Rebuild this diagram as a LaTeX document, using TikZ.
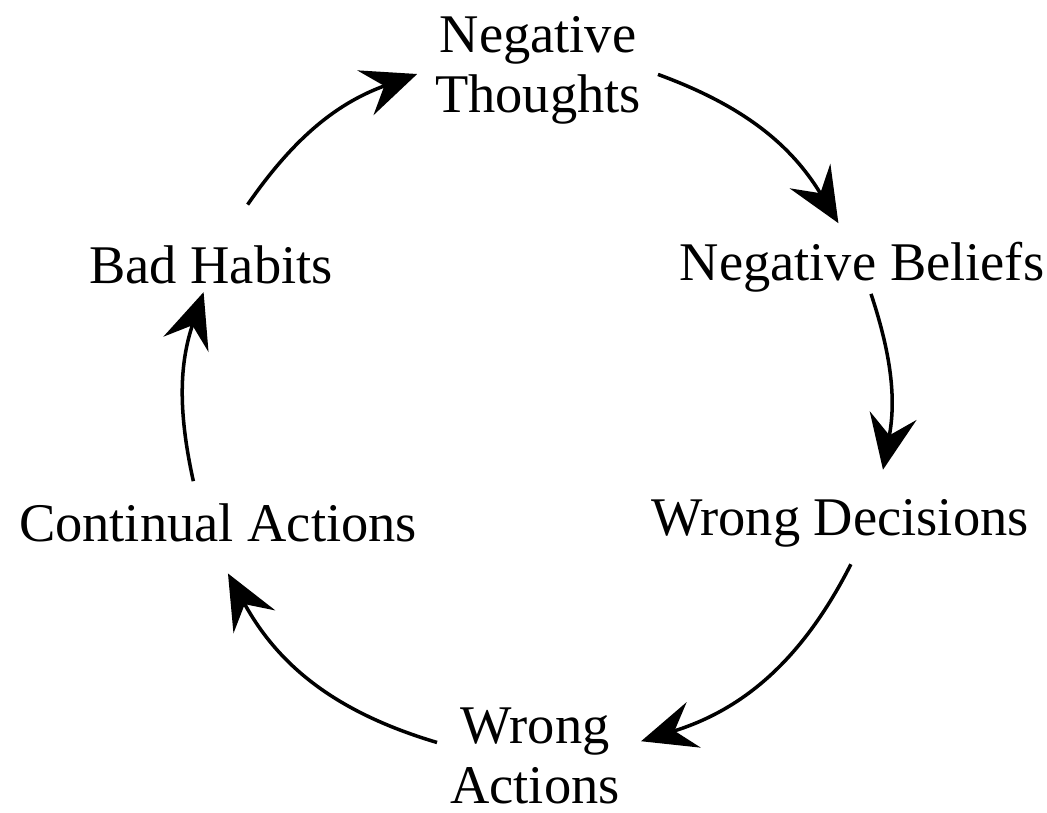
\documentclass[tikz,border=0pt]{standalone}
\usepackage{fontspec}
\setmainfont{Liberation Serif}
\usepackage{tikz}
\usetikzlibrary{arrows.meta, calc}

\tikzset{
  label text/.style={font=\fontsize{31}{34}\selectfont, align=center, inner sep=0pt},
  cycle arrow/.style={line width=2pt, -{Stealth[length=1.1cm, width=0.95cm, inset=0.4cm]}}
}

\begin{document}
\begin{tikzpicture}[x=0.02cm,y=0.02cm]

\useasboundingbox (0,0) rectangle (1047,813);

% Labels
\node[label text] (thoughts) at (538,743) {Negative\\Thoughts};
\node[label text] (beliefs)  at (862,546) {Negative Beliefs};
\node[label text] (decisions) at (840,290) {Wrong Decisions};
\node[label text] (actions)  at (535,57)  {Wrong\\Actions};
\node[label text] (continual) at (218,290) {Continual Actions};
\node[label text] (habits)   at (211,548) {Bad Habits};

% Circle of arrows
\coordinate (c) at (537,408);
\foreach \s/\e/\b [count=\i] in {145.3/109.9/17.7, 69.9/31.1/19.4, 18.4/-10.6/14.5,
    -26.9/-72.8/22.9, -106.5/-151.4/22.4, -167.5/-198.7/15.6}{
  \coordinate (s\i) at ($(c)+(\s:352)$);
  \coordinate (e\i) at ($(c)+(\e:352)$);
  \draw[cycle arrow] (s\i) to[bend left=\b] (e\i);
}

\end{tikzpicture}
\end{document}
